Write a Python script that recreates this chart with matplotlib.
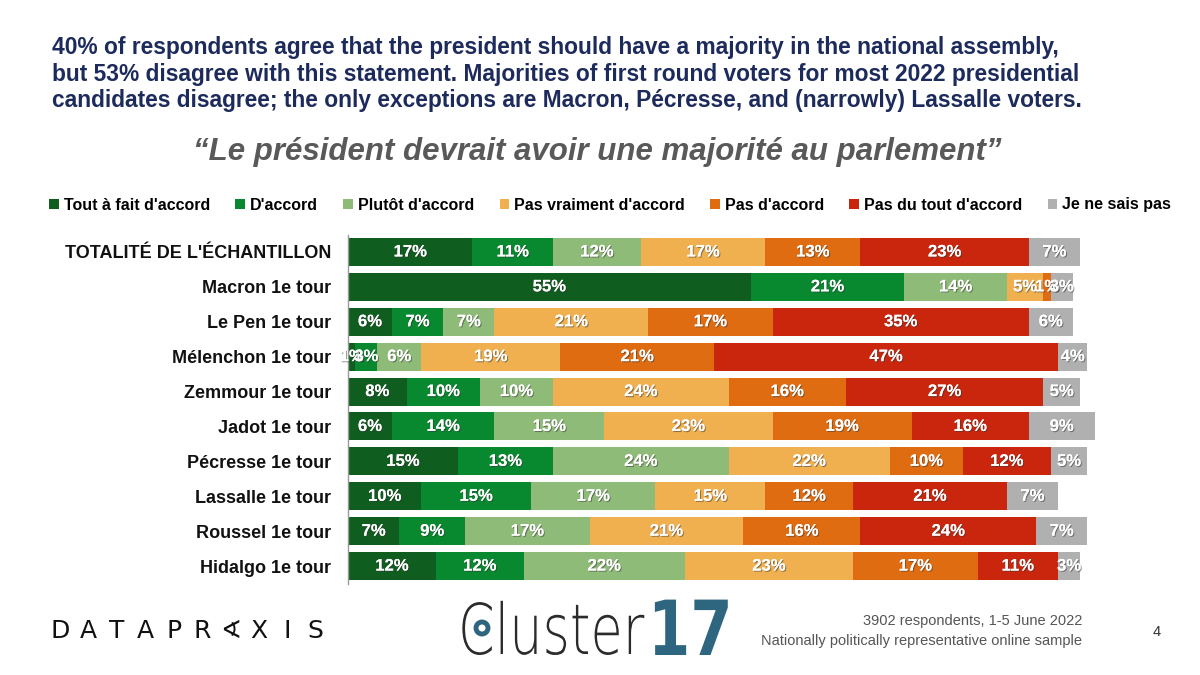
import matplotlib.pyplot as plt
import matplotlib.patheffects as pe
from matplotlib.patches import Patch, PathPatch, Circle
from matplotlib.textpath import TextPath
from matplotlib.font_manager import FontProperties
from matplotlib.transforms import Affine2D, IdentityTransform

plt.rcParams['font.family'] = ['Liberation Sans', 'DejaVu Sans']

# ---------- data ----------
groups = ["TOTALITÉ DE L'ÉCHANTILLON", "Macron 1e tour", "Le Pen 1e tour",
          "Mélenchon 1e tour", "Zemmour 1e tour", "Jadot 1e tour",
          "Pécresse 1e tour", "Lassalle 1e tour", "Roussel 1e tour",
          "Hidalgo 1e tour"]
answers = ["Tout à fait d'accord", "D'accord", "Plutôt d'accord",
           "Pas vraiment d'accord", "Pas d'accord", "Pas du tout d'accord",
           "Je ne sais pas"]
tout_a_fait = [17, 55, 6, 1, 8, 6, 15, 10, 7, 12]
d_accord = [11, 21, 7, 3, 10, 14, 13, 15, 9, 12]
plutot = [12, 14, 7, 6, 10, 15, 24, 17, 17, 22]
pas_vraiment = [17, 5, 21, 19, 24, 23, 22, 15, 21, 23]
pas_d_accord = [13, 1, 17, 21, 16, 19, 10, 12, 16, 17]
pas_du_tout = [23, 0, 35, 47, 27, 16, 12, 21, 24, 11]
ne_sait_pas = [7, 3, 6, 4, 5, 9, 5, 7, 7, 3]
series = [tout_a_fait, d_accord, plutot, pas_vraiment, pas_d_accord,
          pas_du_tout, ne_sait_pas]
colors = ['#0f5e1f', '#08892f', '#8fbb79', '#f0b050', '#e06c12',
          '#c9260d', '#b0b0b0']

fig = plt.figure(figsize=(12, 6.75), dpi=100)
fig.patch.set_facecolor('white')

# ---------- titles ----------
title = ("40% of respondents agree that the president should have a majority in the national assembly,\n"
         "but 53% disagree with this statement. Majorities of first round voters for most 2022 presidential\n"
         "candidates disagree; the only exceptions are Macron, Pécresse, and (narrowly) Lassalle voters.")
fig.text(52 / 1200, 1 - 36 / 675, title, ha='left', va='top', fontsize=16.4,
         fontweight='bold', color='#1d2b5c', linespacing=1.2)
fig.text(597 / 1200, 1 - 152 / 675,
         "\u201cLe président devrait avoir une majorité au parlement\u201d",
         ha='center', va='center', fontsize=22.5, fontweight='bold',
         style='italic', color='#595959')

# ---------- bars ----------
ax = fig.add_axes([348 / 1200, 1 - 583.5 / 675, 732 * 1.03 / 1200, 349 / 675])
y = list(range(len(groups)))
left = [0] * len(groups)
shadow = [pe.withSimplePatchShadow(offset=(0.8, -0.8), shadow_rgbFace='#333333', alpha=0.5),
          pe.Normal()]
for vals, col in zip(series, colors):
    ax.barh(y, vals, left=left, height=0.8, color=col, edgecolor='none')
    for i, v in enumerate(vals):
        if v > 0:
            ax.text(left[i] + v / 2, i, f"{v}%", ha='center', va='center',
                    fontsize=12, fontweight='bold', color='white',
                    path_effects=shadow)
    left = [a + b for a, b in zip(left, vals)]

ax.set_xlim(0, 103)
ax.set_ylim(len(groups) - 0.5, -0.5)
ax.set_yticks(y)
ax.set_yticklabels(groups, fontsize=13, fontweight='bold', color='#111111')
ax.tick_params(axis='y', length=0, pad=12)
ax.set_xticks([])
for s in ['top', 'right', 'bottom']:
    ax.spines[s].set_visible(False)
ax.spines['left'].set_color('#999999')
ax.spines['left'].set_linewidth(1)

# ---------- legend ----------
handles = [Patch(facecolor=c, edgecolor='none') for c in colors]
leg = fig.legend(handles, answers, loc='center', bbox_to_anchor=(610 / 1200, 1 - 205 / 675),
                 ncol=7, frameon=False, handlelength=0.6, handleheight=0.6,
                 handletextpad=0.3, columnspacing=1.6,
                 prop={'weight': 'bold', 'size': 11.5})

# ---------- footer ----------
logo = "DATAPR\u2222XIS"
for i, ch in enumerate(logo):
    fig.text((60 + i * 28.4) / 1200, 1 - 631 / 675, ch, ha='center', va='center',
             fontsize=18, color='#111111', family=['DejaVu Sans'])

fp = FontProperties(family='DejaVu Sans', weight='light')
cl = TextPath((0, 0), "Cluster", size=70, prop=fp)
fig.add_artist(PathPatch(cl, transform=Affine2D().scale(0.75, 1.0).translate(458, 675 - 654),
                         facecolor='#2b2b2b', edgecolor='none'))
fpb = FontProperties(family='DejaVu Sans', weight='bold')
n17 = TextPath((0, 0), "17", size=76, prop=fpb)
fig.add_artist(PathPatch(n17, transform=Affine2D().scale(0.8, 1.0).translate(648, 675 - 655),
                         facecolor='#2e6680', edgecolor='none'))
fig.add_artist(Circle((482, 675 - 628), 6, transform=IdentityTransform(),
                      facecolor='white', edgecolor='#2e6680', linewidth=3.5))

fig.text(1082 / 1200, 1 - 621 / 675, "3902 respondents, 1-5 June 2022", ha='right',
         va='center', fontsize=10.5, color='#555555')
fig.text(1082 / 1200, 1 - 641 / 675, "Nationally politically representative online sample",
         ha='right', va='center', fontsize=10.5, color='#555555')
fig.text(1157 / 1200, 1 - 632 / 675, "4", ha='center', va='center', fontsize=10.5,
         color='#333333')

fig.savefig('out.png', dpi=100)
